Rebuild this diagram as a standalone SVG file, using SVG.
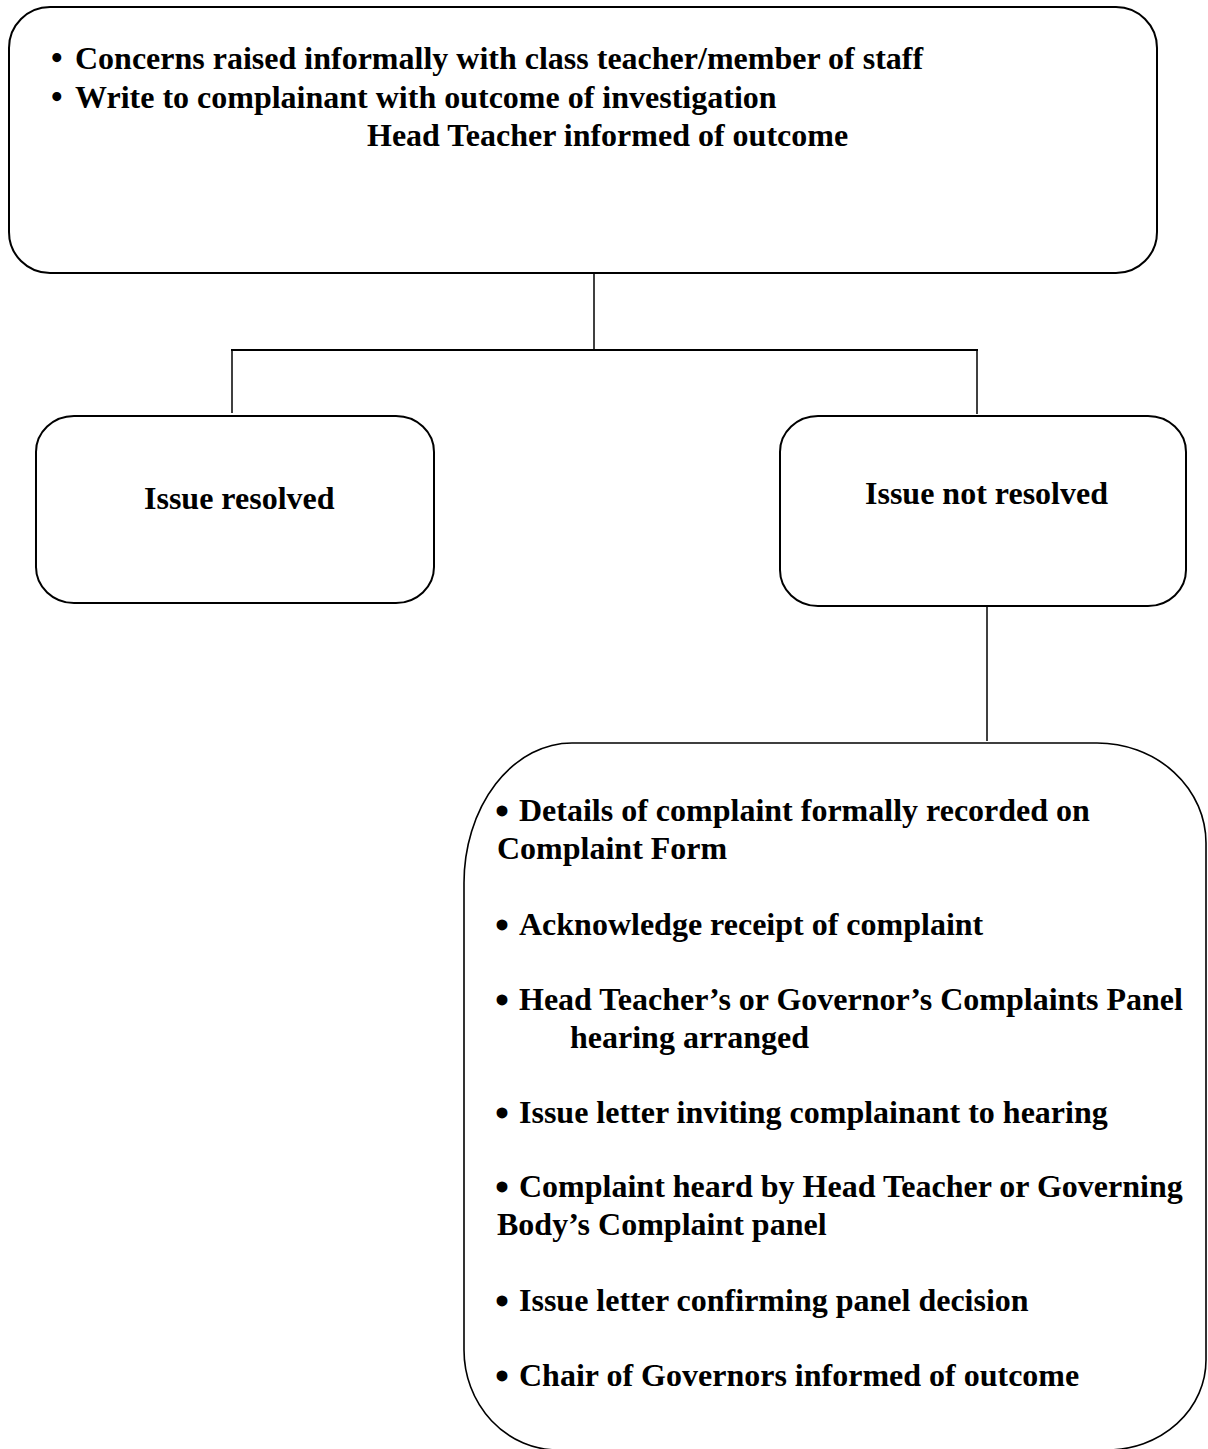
<svg xmlns="http://www.w3.org/2000/svg" width="1208" height="1449" viewBox="0 0 1208 1449">
<style>
.box{fill:#fff;stroke:#000;stroke-width:2}
.thin{stroke-width:1.6}
.ln{stroke:#000;stroke-width:1.5;fill:none}
text{font-family:"Liberation Serif","Times New Roman",serif;font-weight:bold;font-size:32px;fill:#000}
.b{font-size:40px}
.bt{font-size:33px}
</style>
<rect width="1208" height="1449" fill="#fff"/>
<g id="connectors">
<line class="ln" x1="594" y1="273" x2="594" y2="351"/>
<line class="ln" x1="231" y1="350" x2="978" y2="350" style="stroke-width:2"/>
<line class="ln" x1="232" y1="350" x2="232" y2="413"/>
<line class="ln" x1="977" y1="350" x2="977" y2="414"/>
<line class="ln" x1="987" y1="606" x2="987" y2="741"/>
</g>
<g id="node-informal">
<rect class="box" x="9" y="7" width="1148" height="266" rx="41" ry="41"/>
<text x="51" y="69"><tspan class="bt">•</tspan><tspan x="75">Concerns raised informally with class teacher/member of staff</tspan></text>
<text x="51" y="108"><tspan class="bt">•</tspan><tspan x="75">Write to complainant with outcome of investigation</tspan></text>
<text x="367" y="146">Head Teacher informed of outcome</text>
</g>
<g id="node-resolved">
<rect class="box" x="36" y="416" width="398" height="187" rx="38" ry="36"/>
<text x="144" y="509">Issue resolved</text>
</g>
<g id="node-not-resolved">
<rect class="box" x="780" y="416" width="406" height="190" rx="38" ry="36"/>
<text x="865" y="504">Issue not resolved</text>
</g>
<g id="node-formal">
<path class="box thin" d="M 572 743 H 1097 A 109 100 0 0 1 1206 843 V 1360 A 99 90 0 0 1 1107 1450 H 558 A 94 100 0 0 1 464 1350 V 883 A 108 140 0 0 1 572 743 Z"/>
<text class="b" x="495" y="825">•</text><text x="519" y="821">Details of complaint formally recorded on</text>
<text x="497" y="859">Complaint Form</text>
<text class="b" x="495" y="939">•</text><text x="519" y="935">Acknowledge receipt of complaint</text>
<text class="b" x="495" y="1014">•</text><text x="519" y="1010">Head Teacher’s or Governor’s Complaints Panel</text>
<text x="570" y="1048">hearing arranged</text>
<text class="b" x="495" y="1127">•</text><text x="519" y="1123">Issue letter inviting complainant to hearing</text>
<text class="b" x="495" y="1201">•</text><text x="519" y="1197">Complaint heard by Head Teacher or Governing</text>
<text x="497" y="1235">Body’s Complaint panel</text>
<text class="b" x="495" y="1315">•</text><text x="519" y="1311">Issue letter confirming panel decision</text>
<text class="b" x="495" y="1390">•</text><text x="519" y="1386">Chair of Governors informed of outcome</text>
</g>
</svg>
